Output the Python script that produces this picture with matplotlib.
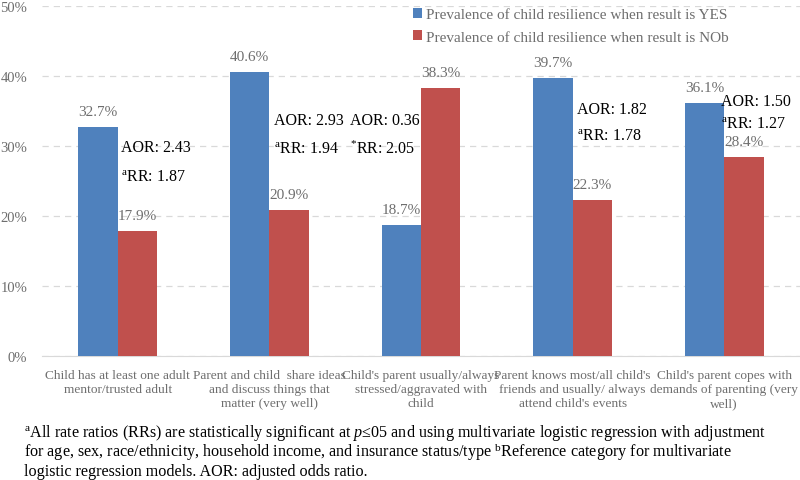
import matplotlib
matplotlib.use('Agg')
import matplotlib.pyplot as plt
import numpy as np

plt.rcParams['font.family'] = ['Liberation Serif', 'DejaVu Serif']
plt.rcParams['mathtext.fontset'] = 'custom'
plt.rcParams['mathtext.rm'] = 'Liberation Serif'
plt.rcParams['mathtext.it'] = 'Liberation Serif:italic'

# Datos
categorias = ["Child has at least one adult\nmentor/trusted adult",
              "Parent and child  share ideas\nand discuss things that\nmatter (very well)",
              "Child's parent usually/always\nstressed/aggravated with\nchild",
              "Parent knows most/all child's\nfriends and usually/ always\nattend child's events",
              "Child's parent copes with\ndemands of parenting (very\nwell)"]
prev_si = [32.7, 40.6, 18.7, 39.7, 36.1]
prev_no = [17.9, 20.9, 38.3, 22.3, 28.4]
aor = ['2.43', '2.93', '0.36', '1.82', '1.50']
rr = ['1.87', '1.94', '2.05', '1.78', '1.27']
rr_marca = ['a', 'a', '*', 'a', 'a']
# posicion de las anotaciones (desplazamiento x, y en %)
anot_x = [0.02, 0.03, -0.47, 0.03, -0.02]
anot_y = [29.9, 33.7, 33.7, 35.3, 36.4]
anot_dy = [4.3, 4.1, 4.1, 3.9, 3.2]

azul = '#4F81BD'
rojo = '#C0504D'
gris = '#6E6E6E'

fig = plt.figure(figsize=(8, 4.81), dpi=100)
ax = fig.add_axes([42 / 800, 124 / 481, 758 / 800, 350 / 481])

x = np.arange(len(categorias))
w = 0.26
b1 = ax.bar(x - w / 2, prev_si, w, color=azul, zorder=3,
            label='Prevalence of child resilience when result is YES')
b2 = ax.bar(x + w / 2, prev_no, w, color=rojo, zorder=3,
            label='Prevalence of child resilience when result is NOb')

for i in range(len(x)):
    ax.text(x[i] - w / 2, prev_si[i] + 1.3, f'{prev_si[i]:.1f}%', ha='center',
            va='bottom', fontsize=11, color=gris)
    ax.text(x[i] + w / 2, prev_no[i] + 1.3, f'{prev_no[i]:.1f}%', ha='center',
            va='bottom', fontsize=11, color=gris)
    ax.text(x[i] + anot_x[i], anot_y[i], f'AOR: {aor[i]}', ha='left',
            va='center', fontsize=11.5, color='black', zorder=4)
    if rr_marca[i] == '*':
        marca = '$^{*}$'
    else:
        marca = r'$^{\mathrm{a}}$'
    ax.text(x[i] + anot_x[i], anot_y[i] - anot_dy[i], marca + f'RR: {rr[i]}',
            ha='left', va='center', fontsize=11.5, color='black', zorder=4)

ax.set_xlim(-0.5, 4.5)
ax.set_ylim(0, 50)
ax.set_yticks(np.arange(0, 51, 10))
ax.set_yticklabels([f'{v}%' for v in range(0, 51, 10)], fontsize=10.5, color=gris)
ax.set_xticks(x)
ax.set_xticklabels(categorias, fontsize=9.6, color=gris, linespacing=1.2)
ax.tick_params(axis='both', length=0)
ax.tick_params(axis='y', pad=10.5)
ax.tick_params(axis='x', pad=9.5)
ax.grid(axis='y', color='#D9D9D9', linestyle=(0, (5, 4)), linewidth=0.9, zorder=0)
for s in ['top', 'right', 'left']:
    ax.spines[s].set_visible(False)
ax.spines['bottom'].set_color('#D9D9D9')

leg = ax.legend(loc='upper left', bbox_to_anchor=(0.481, 1.012), frameon=False,
                fontsize=11, handlelength=0.6, handleheight=0.6,
                handletextpad=0.3, labelspacing=0.6, borderaxespad=0)
for t in leg.get_texts():
    t.set_color(gris)

pie = [r'$^{\mathrm{a}}$All rate ratios (RRs) are statistically significant at $\mathit{p}$≤05 '
       'and using multivariate logistic regression with adjustment',
       'for age, sex, race/ethnicity, household income, and insurance status/type '
       r'$^{\mathrm{b}}$Reference category for multivariate',
       'logistic regression models. AOR: adjusted odds ratio.']
for k, linea in enumerate(pie):
    fig.text(24 / 800, 1 - (433 + 19.5 * k) / 481, linea, ha='left', va='center',
             fontsize=11.6, color='black')

plt.savefig('out.png', dpi=100)
